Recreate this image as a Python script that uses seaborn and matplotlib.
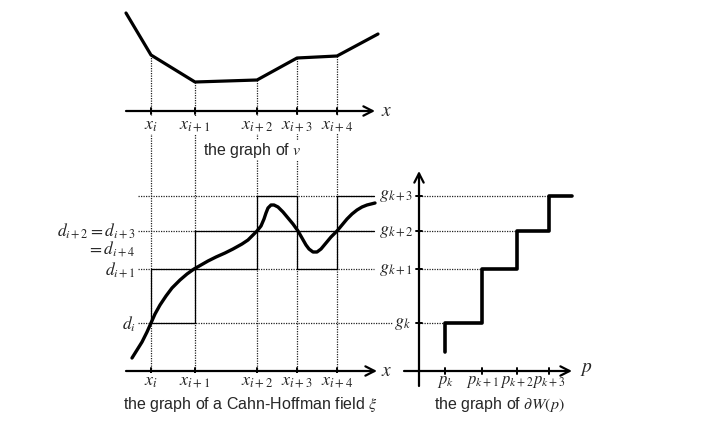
import matplotlib
matplotlib.use("Agg")
import matplotlib.pyplot as plt
import seaborn as sns
import pandas as pd

sns.set_theme(style="white")
plt.rcParams['font.family'] = ['Liberation Sans', 'DejaVu Sans']
plt.rcParams['mathtext.fontset'] = 'stix'

# ---------------- data (diagram units, y grows downward) ----------------
x_nodes = [151, 195, 257, 297, 337]                       # x_i .. x_{i+4}
x_labels = ['$x_i$', '$x_{i+1}$', '$x_{i+2}$', '$x_{i+3}$', '$x_{i+4}$']

v_x = [126, 151, 195, 257, 297, 337, 378]
v_y = [13, 55, 82, 80, 58, 56, 34]

g_levels = [323, 269, 231, 196]                           # g_k .. g_{k+3}
g_labels = ['$g_k$', '$g_{k+1}$', '$g_{k+2}$', '$g_{k+3}$']
d_labels = ['$d_i$', '$d_{i+1}$', '$d_{i+2} = d_{i+3}$\n$= d_{i+4}$', '']

xi_x = [132, 137, 142, 147, 151, 155, 160, 166, 172, 180, 187, 194, 201,
        208, 216, 225, 233, 242, 248, 253, 257, 261, 264, 266, 268, 271,
        274, 278, 283, 288, 293, 298, 302, 306, 309, 313, 317, 321, 326,
        331, 337, 342, 347, 352, 357, 362, 367, 371, 375]
xi_y = [358, 350, 342, 332, 323, 314, 305, 296, 288, 280, 274, 269, 265,
        261, 257, 253, 249, 244, 240, 235, 231, 226, 219, 213, 208, 205,
        205, 207, 212, 218, 224, 231, 238, 245, 249, 252, 252, 249, 243,
        237, 231, 225, 219, 214, 210, 207, 205, 204, 203]

p_nodes = [445, 482, 517, 549]                            # p_k .. p_{k+3}
p_labels = ['$p_k$', '$p_{k+1}$', '$p_{k+2}$', '$p_{k+3}$']
step_start_y = 352
step_end_x = 572

# ---------------- figure ----------------
fig = plt.figure(figsize=(7.01, 4.33), dpi=100)
ax = fig.add_axes([0, 0, 1, 1])
ax.set_xlim(0, 701)
ax.set_ylim(433, 0)
ax.axis('off')

K = 'black'
DOT = dict(color='#222222', lw=0.9, ls=(0, (1, 1)), zorder=1)
SOL = dict(color=K, lw=0.9, zorder=2)
AX_LW = 1.6
MFS = 13
DFS = 12.5
top_axis_y = 111
bot_axis_y = 371
lbl_box = dict(facecolor='white', edgecolor='none', pad=0.5)

def arrow(x0, y0, x1, y1):
    ax.annotate('', xy=(x1, y1), xytext=(x0, y0),
                arrowprops=dict(arrowstyle='->,head_length=0.55,head_width=0.28',
                                lw=AX_LW, color=K, shrinkA=0, shrinkB=0), zorder=5)

# ---- vertical dotted guides from v graph down to bottom axis
for xn, vy in zip(x_nodes, v_y[1:6]):
    ax.plot([xn, xn], [vy, bot_axis_y], **DOT)

# ---- top graph of v
df_v = pd.DataFrame({'x': v_x, 'y': v_y})
sns.lineplot(data=df_v, x='x', y='y', sort=False, estimator=None, color=K,
             lw=2.3, ax=ax, zorder=4)
arrow(126, top_axis_y, 375, top_axis_y)
ax.text(381, top_axis_y, '$x$', fontsize=14, va='center', ha='left')
for xn, lab in zip(x_nodes, x_labels):
    ax.plot([xn, xn], [top_axis_y - 3, top_axis_y + 3], color=K, lw=1.4, zorder=5)
    ax.text(xn, 125, lab, fontsize=MFS, ha='center', va='center', bbox=lbl_box, zorder=6)
ax.text(252, 150, 'the graph of $v$', fontsize=11.5, ha='center', va='center',
        bbox=lbl_box, zorder=6)

# ---- bottom left: Cahn-Hoffman field
left_x0 = 138
right_ends = [392, 374, 374, 374]
for gy, xe in zip(g_levels, right_ends):
    ax.plot([left_x0, xe], [gy, gy], **DOT)

xa, xb, xc, xd, xe = x_nodes
g0, g1, g2, g3 = g_levels
cells = [(xa, xb, g0, g1), (xb, xc, g1, g2), (xc, xd, g2, g3),
         (xd, xe, g1, g2), (xe, 374, g2, g3)]
for (x0, x1, y0, y1) in cells:
    ax.plot([x0, x1], [y0, y0], **SOL)
    ax.plot([x0, x1], [y1, y1], **SOL)
    ax.plot([x0, x0], [y0, y1], **SOL)
    if x1 != 374:
        ax.plot([x1, x1], [y0, y1], **SOL)

df_xi = pd.DataFrame({'x': xi_x, 'y': xi_y})
sns.lineplot(data=df_xi, x='x', y='y', sort=False, estimator=None, color=K,
             lw=2.4, ax=ax, zorder=4, solid_joinstyle='round')

arrow(126, bot_axis_y, 377, bot_axis_y)
ax.text(381, bot_axis_y, '$x$', fontsize=14, va='center', ha='left')
for xn, lab in zip(x_nodes, x_labels):
    ax.plot([xn, xn], [bot_axis_y - 3, bot_axis_y + 3], color=K, lw=1.4, zorder=5)
    ax.text(xn, 382, lab, fontsize=MFS, ha='center', va='center', bbox=lbl_box, zorder=6)
ax.text(250, 404, 'the graph of a Cahn-Hoffman field $\\xi$', fontsize=11.5,
        ha='center', va='center', zorder=6)

for gy, lab in zip(g_levels, d_labels):
    if not lab:
        continue
    if '\n' in lab:
        ax.text(136, gy - 10, lab, fontsize=DFS, ha='right', va='top',
                multialignment='right', linespacing=0.9, zorder=6)
    else:
        ax.text(136, gy + 1, lab, fontsize=DFS, ha='right', va='center', zorder=6)

for gy, lab in zip(g_levels, g_labels):
    xl = 394 if lab == '$g_k$' else 379
    ax.text(xl, gy, lab, fontsize=MFS, ha='left', va='center', zorder=6)

# ---- bottom right: graph of dW(p)
axis_px = 419
ax.annotate('', xy=(axis_px, 171), xytext=(axis_px, 386),
            arrowprops=dict(arrowstyle='->,head_length=0.55,head_width=0.28',
                            lw=AX_LW, color=K, shrinkA=0, shrinkB=0), zorder=5)
arrow(404, bot_axis_y, 572, bot_axis_y)
ax.text(580, bot_axis_y - 1, '$p$', fontsize=14, va='center', ha='left')

for gy, px in zip(g_levels, p_nodes):
    ax.plot([axis_px, px], [gy, gy], **DOT)
    ax.plot([axis_px - 3, axis_px + 3], [gy, gy], color=K, lw=1.4, zorder=5)

# staircase corners built from the nodes and levels
step_x, step_y = [p_nodes[0]], [step_start_y]
for i, (px, gy) in enumerate(zip(p_nodes, g_levels)):
    nxt = p_nodes[i + 1] if i + 1 < len(p_nodes) else step_end_x
    step_x += [px, nxt]
    step_y += [gy, gy]
df_step = pd.DataFrame({'x': step_x, 'y': step_y})
sns.lineplot(data=df_step, x='x', y='y', sort=False, estimator=None,
             color=K, lw=2.6, ax=ax, zorder=4)

for px, lab in zip(p_nodes, p_labels):
    ax.plot([px, px], [bot_axis_y - 3, bot_axis_y + 3], color=K, lw=1.4, zorder=5)
    ax.text(px, 382, lab, fontsize=12, ha='center', va='center', zorder=6)
ax.text(499, 405, 'the graph of $\\partial W(p)$', fontsize=11.5, ha='center',
        va='center', zorder=6)

fig.savefig('out.png', dpi=100, facecolor='white')
